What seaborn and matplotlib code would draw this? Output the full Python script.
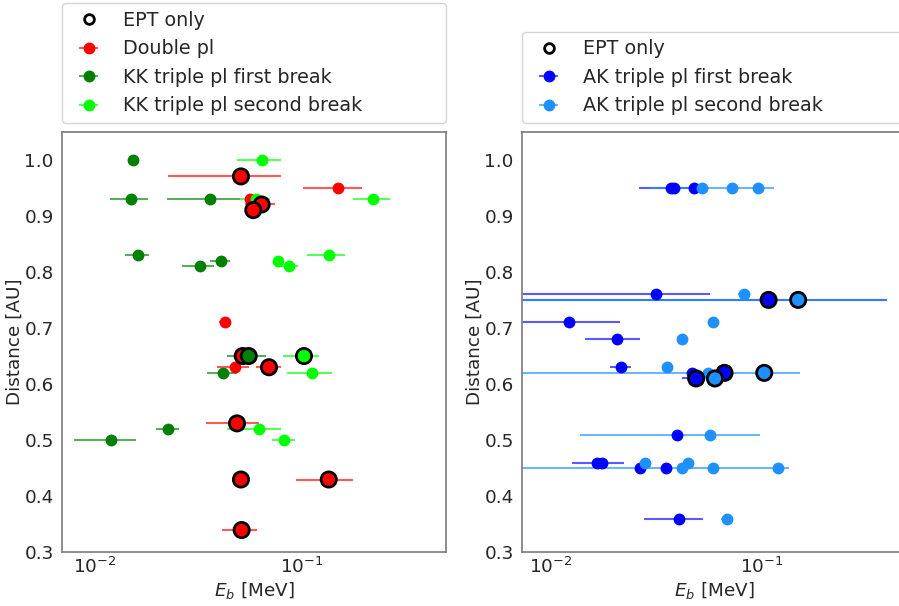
import numpy as np
import pandas as pd
import matplotlib
matplotlib.use("Agg")
import matplotlib.pyplot as plt
import seaborn as sns
from matplotlib.lines import Line2D
from matplotlib.colors import to_rgba

# ---------------- data ----------------
# Left panel: Double power law
dpl_D = [0.97, 0.95, 0.93, 0.92, 0.91, 0.71, 0.65, 0.63, 0.63, 0.53, 0.43, 0.43, 0.34]
dpl_E = [0.0509, 0.1497, 0.0565, 0.0641, 0.0584, 0.0425, 0.0519, 0.0475, 0.0696, 0.0487, 0.0509, 0.1355, 0.0513]
dpl_lo = [0.0226, 0.102, 0.0540, 0.0532, 0.0560, 0.0400, 0.0490, 0.0391, 0.0603, 0.0344, 0.0495, 0.094, 0.0414]
dpl_hi = [0.0793, 0.197, 0.0590, 0.0744, 0.0610, 0.0450, 0.0550, 0.0557, 0.0792, 0.0625, 0.0525, 0.177, 0.0610]
dpl_ept = [1, 0, 0, 1, 1, 0, 1, 0, 1, 1, 1, 1, 1]

# KK triple pl first break
kk1_D = [1.00, 0.93, 0.93, 0.83, 0.81, 0.82, 0.65, 0.62, 0.52, 0.50]
kk1_E = [0.0152, 0.0149, 0.0362, 0.01615, 0.0322, 0.0406, 0.0555, 0.0417, 0.0226, 0.0119]
kk1_lo = [0.0147, 0.0118, 0.0224, 0.0140, 0.0263, 0.0361, 0.0434, 0.0350, 0.0197, 0.0079]
kk1_hi = [0.0157, 0.0181, 0.0504, 0.0183, 0.0377, 0.0450, 0.0670, 0.0486, 0.0254, 0.0158]
kk1_ept = [0, 0, 0, 0, 0, 0, 1, 0, 0, 0]

# KK triple pl second break
kk2_D = [1.00, 0.93, 0.93, 0.82, 0.81, 0.83, 0.65, 0.62, 0.52, 0.50]
kk2_E = [0.0641, 0.0602, 0.221, 0.0767, 0.0867, 0.1355, 0.1028, 0.1124, 0.0620, 0.0826]
kk2_lo = [0.0486, 0.0504, 0.178, 0.0730, 0.0787, 0.106, 0.0815, 0.0853, 0.0437, 0.0718]
kk2_hi = [0.0796, 0.0701, 0.268, 0.0800, 0.0960, 0.162, 0.1220, 0.1400, 0.0796, 0.0925]
kk2_ept = [0, 0, 0, 0, 0, 0, 1, 0, 0, 0]

# Right panel: AK triple pl first break
ak1_D = [0.95, 0.95, 0.95, 0.76, 0.75, 0.71, 0.68, 0.63, 0.62, 0.62, 0.61, 0.51, 0.46, 0.46, 0.45, 0.45, 0.36]
ak1_E = [0.0369, 0.0384, 0.0478, 0.0315, 0.1076, 0.0122, 0.0205, 0.0215, 0.0464, 0.0665, 0.0488, 0.0397, 0.0166, 0.0174, 0.0264, 0.0353, 0.0404]
ak1_lo = [0.0262, 0.0370, 0.0460, 0.0050, 0.0050, 0.0060, 0.0145, 0.0190, 0.0450, 0.0640, 0.0418, 0.0385, 0.0126, 0.0168, 0.0256, 0.0342, 0.0276]
ak1_hi = [0.0450, 0.0398, 0.0496, 0.0567, 0.391, 0.0212, 0.0264, 0.0239, 0.0478, 0.0690, 0.0520, 0.0410, 0.0222, 0.0180, 0.0272, 0.0364, 0.0527]
ak1_ept = [0, 0, 0, 0, 1, 0, 0, 0, 0, 1, 1, 0, 0, 0, 0, 0, 0]

# AK triple pl second break
ak2_D = [0.95, 0.95, 0.95, 0.76, 0.75, 0.71, 0.68, 0.63, 0.62, 0.62, 0.61, 0.51, 0.46, 0.46, 0.45, 0.45, 0.45, 0.36]
ak2_E = [0.0520, 0.0721, 0.0958, 0.0822, 0.1486, 0.0588, 0.0419, 0.0356, 0.0557, 0.1026, 0.0599, 0.0567, 0.0279, 0.0446, 0.0416, 0.0588, 0.1187, 0.0680]
ak2_lo = [0.0294, 0.0700, 0.0720, 0.0770, 0.0050, 0.0560, 0.0405, 0.0345, 0.0050, 0.0990, 0.0580, 0.0138, 0.0270, 0.0430, 0.0402, 0.0050, 0.1150, 0.0640]
ak2_hi = [0.0721, 0.0742, 0.1140, 0.0870, 0.391, 0.0615, 0.0433, 0.0367, 0.151, 0.1060, 0.0620, 0.0982, 0.0288, 0.0460, 0.0430, 0.134, 0.1220, 0.0730]
ak2_ept = [0, 0, 0, 0, 1, 0, 0, 0, 0, 1, 1, 0, 0, 0, 0, 0, 0, 0]

y_ticks = [0.3, 0.4, 0.5, 0.6, 0.7, 0.8, 0.9, 1.0]

# ---------------- style ----------------
sns.set_theme(style="white", context="notebook", font_scale=1.2)
plt.rcParams["font.family"] = ["DejaVu Sans"]

fig = plt.figure(figsize=(8.99, 6.06), dpi=100)
axL = fig.add_axes([0.069, 0.0883, 0.4271, 0.6947])
axR = fig.add_axes([0.5806, 0.0883, 0.4271, 0.6947])


def draw_series(ax, E, D, lo, hi, color, label):
    E = np.asarray(E)
    xerr = np.vstack([E - np.asarray(lo), np.asarray(hi) - E])
    cont = ax.errorbar(E, D, xerr=xerr, fmt="o", color=color, mec=color,
                       ecolor=to_rgba(color, 0.65), elinewidth=1.5, ms=7.5,
                       label=label, zorder=2)
    return cont


def draw_ept(ax, series):
    frames = []
    for E, D, ept, color in series:
        df = pd.DataFrame({"E": E, "D": D, "ept": ept})
        df["color"] = color
        frames.append(df[df["ept"] == 1])
    dfe = pd.concat(frames, ignore_index=True)
    pal = {c: c for c in dfe["color"].unique()}
    sns.scatterplot(data=dfe, x="E", y="D", hue="color", palette=pal, s=120,
                    edgecolor="black", linewidth=2, legend=False, ax=ax, zorder=5)


for ax in (axL, axR):
    ax.set_xscale("log")

cL = [draw_series(axL, dpl_E, dpl_D, dpl_lo, dpl_hi, "red", "Double pl"),
      draw_series(axL, kk1_E, kk1_D, kk1_lo, kk1_hi, "green", "KK triple pl first break"),
      draw_series(axL, kk2_E, kk2_D, kk2_lo, kk2_hi, "lime", "KK triple pl second break")]
draw_ept(axL, [(dpl_E, dpl_D, dpl_ept, "red"),
               (kk1_E, kk1_D, kk1_ept, "green"),
               (kk2_E, kk2_D, kk2_ept, "lime")])

cR = [draw_series(axR, ak1_E, ak1_D, ak1_lo, ak1_hi, "blue", "AK triple pl first break"),
      draw_series(axR, ak2_E, ak2_D, ak2_lo, ak2_hi, "dodgerblue", "AK triple pl second break")]
draw_ept(axR, [(ak1_E, ak1_D, ak1_ept, "blue"),
               (ak2_E, ak2_D, ak2_ept, "dodgerblue")])

axL.set_xlim(0.00692, 0.501)
axR.set_xlim(0.00729, 0.4816)

ept_handle = Line2D([], [], marker="o", ls="none", mfc="none", mec="black", mew=2, ms=7)

for ax, conts in ((axL, cL), (axR, cR)):
    ax.set_ylim(0.3, 1.05)
    ax.set_yticks(y_ticks)
    ax.set_yticklabels([f"{t:.1f}" for t in y_ticks])
    ax.set_xticks([0.01, 0.1])
    ax.xaxis.set_minor_locator(matplotlib.ticker.NullLocator())
    ax.tick_params(labelsize=13.2, length=0)
    ax.tick_params(axis="y", pad=6)
    ax.tick_params(axis="x", pad=3.5)
    ax.set_xlabel("$E_b$ [MeV]", fontsize=13.2, labelpad=1.5)
    ax.set_ylabel("Distance [AU]", fontsize=13.2, labelpad=0.5)
    for sp in ax.spines.values():
        sp.set_color("0.5")
        sp.set_linewidth(1.25)
    handles = [ept_handle] + conts
    labels = ["EPT only"] + [c.get_label() for c in conts]
    ax.legend(handles, labels, loc="lower left", bbox_to_anchor=(0, 1.02, 1, 0.2),
              mode="expand", borderaxespad=0, fontsize=13.8)

fig.savefig("out.png", dpi=100)
